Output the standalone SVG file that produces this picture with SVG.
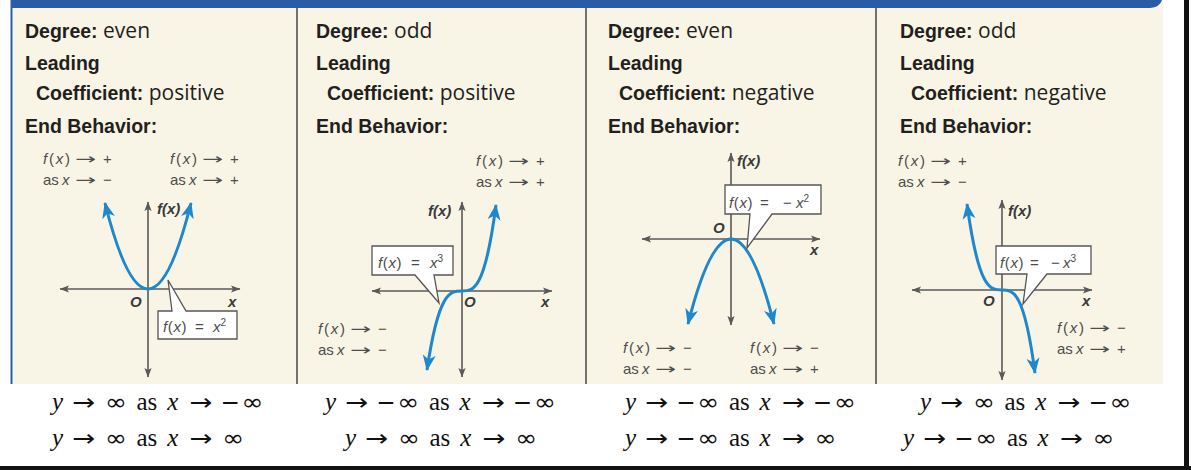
<svg xmlns="http://www.w3.org/2000/svg" width="1191" height="470" viewBox="0 0 1191 470">
<style>
.hb{font-family:"Liberation Sans",Arial,sans-serif;font-weight:bold;font-size:19.5px;fill:#231f20}
.hv{font-family:"Open Sans","Liberation Sans",sans-serif;font-weight:normal;font-size:21px;fill:#231f20}
.lb{font-family:"Liberation Sans",Arial,sans-serif;font-size:15px;fill:#4d4d4d}
.it{font-style:italic}
.ls{letter-spacing:1.8px}
.ar{font-family:"DejaVu Sans",sans-serif;font-size:15px}
.ax{stroke:#595959;stroke-width:1.6;fill:none;marker-start:url(#ga);marker-end:url(#ga)}
.cv{stroke:#1f87cc;stroke-width:3;fill:none;marker-start:url(#ba);marker-end:url(#ba)}
.co{fill:#fff;stroke:#555;stroke-width:1.3;stroke-linejoin:miter}
.al{font-family:"Liberation Sans",Arial,sans-serif;font-weight:bold;font-style:italic;font-size:15px;fill:#3a3a3a}
.ct{font-family:"Liberation Sans",Arial,sans-serif;font-size:15px;fill:#4d4d4d}
.cl{letter-spacing:0.6px}
.sup{font-size:10px}
.mt{font-family:"Liberation Serif","DejaVu Serif",serif;font-size:25px;fill:#111}
.ms{font-family:"DejaVu Sans",sans-serif;font-size:23px;font-style:normal}
.dv{stroke:#444;stroke-width:1.5}
</style>
<defs>
<marker id="ba" viewBox="-17 -8 19 16" refX="0" refY="0" markerWidth="19" markerHeight="16" markerUnits="userSpaceOnUse" orient="auto-start-reverse">
<path d="M1,0 L-15,-6.5 L-10.5,0 L-15,6.5 Z" fill="#1f87cc"/>
</marker>
<marker id="ga" viewBox="-11 -5 12 10" refX="0" refY="0" markerWidth="12" markerHeight="10" markerUnits="userSpaceOnUse" orient="auto-start-reverse">
<path d="M0.5,0 L-9,-3.6 L-7,0 L-9,3.6 Z" fill="#595959"/>
</marker>
</defs>
<rect x="0" y="0" width="1191" height="470" fill="#fff"/>
<rect x="11" y="0" width="1152" height="384" fill="#f9f5e6"/>
<path d="M11,0 H1162 Q1160,7 1150,8 H11 Z" fill="#2b5aa6"/>
<line x1="11.5" y1="0" x2="11.5" y2="384" stroke="#2d5fb0" stroke-width="2"/>
<rect x="1184" y="0" width="5" height="470" fill="#111"/>
<rect x="0" y="466" width="1191" height="4" fill="#111"/>
<g id="dividers">
<line class="dv" x1="297" y1="8" x2="297" y2="384"/>
<line class="dv" x1="586" y1="8" x2="586" y2="384"/>
<line class="dv" x1="876" y1="8" x2="876" y2="384"/>
</g>

<g id="panel1">
<text x="25" y="38"><tspan class="hb">Degree:</tspan><tspan class="hv"> even</tspan></text>
<text class="hb" x="25" y="70">Leading</text>
<text x="36" y="100"><tspan class="hb">Coefficient:</tspan><tspan class="hv"> positive</tspan></text>
<text class="hb" x="25" y="133">End Behavior:</text>
<text class="lb" y="164"><tspan x="43" class="ls"><tspan class="it">f</tspan>(<tspan class="it">x</tspan>)</tspan><tspan x="75" class="ar" textLength="21" lengthAdjust="spacingAndGlyphs">→</tspan><tspan x="103">+</tspan></text>
<text class="lb" y="185"><tspan x="43">as</tspan><tspan x="62" class="it">x</tspan><tspan x="75" class="ar" textLength="21" lengthAdjust="spacingAndGlyphs">→</tspan><tspan x="103">−</tspan></text>
<text class="lb" y="164"><tspan x="170" class="ls"><tspan class="it">f</tspan>(<tspan class="it">x</tspan>)</tspan><tspan x="202" class="ar" textLength="21" lengthAdjust="spacingAndGlyphs">→</tspan><tspan x="230">+</tspan></text>
<text class="lb" y="185"><tspan x="170">as</tspan><tspan x="189" class="it">x</tspan><tspan x="202" class="ar" textLength="21" lengthAdjust="spacingAndGlyphs">→</tspan><tspan x="230">+</tspan></text>
<path class="ax" d="M148,202 V377"/>
<path class="ax" d="M60,289 H240"/>
<text class="al" x="157" y="214">f(x)</text>
<text class="al" x="130" y="307">O</text>
<text class="al" x="228" y="307">x</text>
<path class="cv" d="M105,203 Q148,375 191,203"/>
<path class="co" d="M158,311 H172 L168,280 L186,311 H237 V339 H158 Z"/>
<text class="ct" y="332"><tspan x="163" class="cl"><tspan class="it">f</tspan>(<tspan class="it">x</tspan>)</tspan><tspan x="195">=</tspan><tspan x="213" class="it">x</tspan><tspan class="sup" dy="-6">2</tspan></text>
</g>

<g id="panel2">
<text x="316" y="38"><tspan class="hb">Degree:</tspan><tspan class="hv"> odd</tspan></text>
<text class="hb" x="316" y="70">Leading</text>
<text x="327" y="100"><tspan class="hb">Coefficient:</tspan><tspan class="hv"> positive</tspan></text>
<text class="hb" x="316" y="133">End Behavior:</text>
<text class="lb" y="166"><tspan x="476" class="ls"><tspan class="it">f</tspan>(<tspan class="it">x</tspan>)</tspan><tspan x="508" class="ar" textLength="21" lengthAdjust="spacingAndGlyphs">→</tspan><tspan x="536">+</tspan></text>
<text class="lb" y="187"><tspan x="476">as</tspan><tspan x="495" class="it">x</tspan><tspan x="508" class="ar" textLength="21" lengthAdjust="spacingAndGlyphs">→</tspan><tspan x="536">+</tspan></text>
<text class="lb" y="334"><tspan x="318" class="ls"><tspan class="it">f</tspan>(<tspan class="it">x</tspan>)</tspan><tspan x="350" class="ar" textLength="21" lengthAdjust="spacingAndGlyphs">→</tspan><tspan x="378">−</tspan></text>
<text class="lb" y="355"><tspan x="318">as</tspan><tspan x="337" class="it">x</tspan><tspan x="350" class="ar" textLength="21" lengthAdjust="spacingAndGlyphs">→</tspan><tspan x="378">−</tspan></text>
<path class="ax" d="M462,202 V377"/>
<path class="ax" d="M372,291 H552"/>
<text class="al" x="428" y="216">f(x)</text>
<text class="al" x="464" y="307">O</text>
<text class="al" x="541" y="307">x</text>
<path class="cv" d="M427,370 C438.7,291 450.3,291 462,291 C473.3,291 484.7,291 496,205"/>
<path class="co" d="M372,246 H453 V275 H434 L439,303 L415,275 H372 Z"/>
<text class="ct" y="268"><tspan x="378" class="cl"><tspan class="it">f</tspan>(<tspan class="it">x</tspan>)</tspan><tspan x="411">=</tspan><tspan x="430" class="it">x</tspan><tspan class="sup" dy="-6">3</tspan></text>
</g>

<g id="panel3">
<text x="608" y="38"><tspan class="hb">Degree:</tspan><tspan class="hv"> even</tspan></text>
<text class="hb" x="608" y="70">Leading</text>
<text x="619" y="100"><tspan class="hb">Coefficient:</tspan><tspan class="hv"> negative</tspan></text>
<text class="hb" x="608" y="133">End Behavior:</text>
<text class="lb" y="353"><tspan x="623" class="ls"><tspan class="it">f</tspan>(<tspan class="it">x</tspan>)</tspan><tspan x="655" class="ar" textLength="21" lengthAdjust="spacingAndGlyphs">→</tspan><tspan x="683">−</tspan></text>
<text class="lb" y="374"><tspan x="623">as</tspan><tspan x="642" class="it">x</tspan><tspan x="655" class="ar" textLength="21" lengthAdjust="spacingAndGlyphs">→</tspan><tspan x="683">−</tspan></text>
<text class="lb" y="353"><tspan x="750" class="ls"><tspan class="it">f</tspan>(<tspan class="it">x</tspan>)</tspan><tspan x="782" class="ar" textLength="21" lengthAdjust="spacingAndGlyphs">→</tspan><tspan x="810">−</tspan></text>
<text class="lb" y="374"><tspan x="750">as</tspan><tspan x="769" class="it">x</tspan><tspan x="782" class="ar" textLength="21" lengthAdjust="spacingAndGlyphs">→</tspan><tspan x="810">+</tspan></text>
<path class="ax" d="M731,153 V325"/>
<path class="ax" d="M642,239 H820"/>
<text class="al" x="737" y="166">f(x)</text>
<text class="al" x="713" y="233">O</text>
<text class="al" x="810" y="255">x</text>
<path class="cv" d="M688,324 Q731,154 774,324"/>
<path class="co" d="M725,185 H821 V214 H772 L747,248 L750,214 H725 Z"/>
<text class="ct" y="208"><tspan x="729" class="cl"><tspan class="it">f</tspan>(<tspan class="it">x</tspan>)</tspan><tspan x="760">=</tspan><tspan x="783">−</tspan><tspan x="796" class="it">x</tspan><tspan class="sup" dy="-6">2</tspan></text>
</g>

<g id="panel4">
<text x="900" y="38"><tspan class="hb">Degree:</tspan><tspan class="hv"> odd</tspan></text>
<text class="hb" x="900" y="70">Leading</text>
<text x="911" y="100"><tspan class="hb">Coefficient:</tspan><tspan class="hv"> negative</tspan></text>
<text class="hb" x="900" y="133">End Behavior:</text>
<text class="lb" y="166"><tspan x="898" class="ls"><tspan class="it">f</tspan>(<tspan class="it">x</tspan>)</tspan><tspan x="930" class="ar" textLength="21" lengthAdjust="spacingAndGlyphs">→</tspan><tspan x="958">+</tspan></text>
<text class="lb" y="187"><tspan x="898">as</tspan><tspan x="917" class="it">x</tspan><tspan x="930" class="ar" textLength="21" lengthAdjust="spacingAndGlyphs">→</tspan><tspan x="958">−</tspan></text>
<text class="lb" y="333"><tspan x="1057" class="ls"><tspan class="it">f</tspan>(<tspan class="it">x</tspan>)</tspan><tspan x="1089" class="ar" textLength="21" lengthAdjust="spacingAndGlyphs">→</tspan><tspan x="1117">−</tspan></text>
<text class="lb" y="354"><tspan x="1057">as</tspan><tspan x="1076" class="it">x</tspan><tspan x="1089" class="ar" textLength="21" lengthAdjust="spacingAndGlyphs">→</tspan><tspan x="1117">+</tspan></text>
<path class="ax" d="M1002,200 V380"/>
<path class="ax" d="M912,290 H1092"/>
<text class="al" x="1008" y="216">f(x)</text>
<text class="al" x="983" y="306">O</text>
<text class="al" x="1082" y="306">x</text>
<path class="cv" d="M967,204 C978.7,290 990.3,290 1002,290 C1013,290 1024,290 1035,373"/>
<path class="co" d="M996,246 H1091 V274 H1047 L1023,304 L1027,274 H996 Z"/>
<text class="ct" y="268"><tspan x="1000" class="cl"><tspan class="it">f</tspan>(<tspan class="it">x</tspan>)</tspan><tspan x="1030">=</tspan><tspan x="1051">−</tspan><tspan x="1063" class="it">x</tspan><tspan class="sup" dy="-6">3</tspan></text>
</g>

<g id="math">
<text class="mt" y="410"><tspan x="52" class="it">y</tspan><tspan x="72.2" class="ms" textLength="23" lengthAdjust="spacingAndGlyphs">→</tspan><tspan x="104.7" class="ms" textLength="22" lengthAdjust="spacingAndGlyphs">∞</tspan><tspan x="136.5">as</tspan><tspan x="167.2" class="it">x</tspan><tspan x="189.4" class="ms" textLength="23" lengthAdjust="spacingAndGlyphs">→</tspan><tspan x="220.4" class="ms">−</tspan><tspan x="241.3" class="ms" textLength="22" lengthAdjust="spacingAndGlyphs">∞</tspan></text>
<text class="mt" y="410"><tspan x="325" class="it">y</tspan><tspan x="345.2" class="ms" textLength="23" lengthAdjust="spacingAndGlyphs">→</tspan><tspan x="376.2" class="ms">−</tspan><tspan x="397.1" class="ms" textLength="22" lengthAdjust="spacingAndGlyphs">∞</tspan><tspan x="428.9">as</tspan><tspan x="459.6" class="it">x</tspan><tspan x="481.9" class="ms" textLength="23" lengthAdjust="spacingAndGlyphs">→</tspan><tspan x="512.8" class="ms">−</tspan><tspan x="533.8" class="ms" textLength="22" lengthAdjust="spacingAndGlyphs">∞</tspan></text>
<text class="mt" y="410"><tspan x="625" class="it">y</tspan><tspan x="645.2" class="ms" textLength="23" lengthAdjust="spacingAndGlyphs">→</tspan><tspan x="676.2" class="ms">−</tspan><tspan x="697.1" class="ms" textLength="22" lengthAdjust="spacingAndGlyphs">∞</tspan><tspan x="728.9">as</tspan><tspan x="759.6" class="it">x</tspan><tspan x="781.9" class="ms" textLength="23" lengthAdjust="spacingAndGlyphs">→</tspan><tspan x="812.8" class="ms">−</tspan><tspan x="833.8" class="ms" textLength="22" lengthAdjust="spacingAndGlyphs">∞</tspan></text>
<text class="mt" y="410"><tspan x="920" class="it">y</tspan><tspan x="940.2" class="ms" textLength="23" lengthAdjust="spacingAndGlyphs">→</tspan><tspan x="972.7" class="ms" textLength="22" lengthAdjust="spacingAndGlyphs">∞</tspan><tspan x="1004.5">as</tspan><tspan x="1035.2" class="it">x</tspan><tspan x="1057.4" class="ms" textLength="23" lengthAdjust="spacingAndGlyphs">→</tspan><tspan x="1088.4" class="ms">−</tspan><tspan x="1109.3" class="ms" textLength="22" lengthAdjust="spacingAndGlyphs">∞</tspan></text>
<text class="mt" y="446"><tspan x="52" class="it">y</tspan><tspan x="72.2" class="ms" textLength="23" lengthAdjust="spacingAndGlyphs">→</tspan><tspan x="104.7" class="ms" textLength="22" lengthAdjust="spacingAndGlyphs">∞</tspan><tspan x="136.5">as</tspan><tspan x="167.2" class="it">x</tspan><tspan x="189.4" class="ms" textLength="23" lengthAdjust="spacingAndGlyphs">→</tspan><tspan x="221.9" class="ms" textLength="22" lengthAdjust="spacingAndGlyphs">∞</tspan></text>
<text class="mt" y="446"><tspan x="345" class="it">y</tspan><tspan x="365.2" class="ms" textLength="23" lengthAdjust="spacingAndGlyphs">→</tspan><tspan x="397.7" class="ms" textLength="22" lengthAdjust="spacingAndGlyphs">∞</tspan><tspan x="429.5">as</tspan><tspan x="460.2" class="it">x</tspan><tspan x="482.4" class="ms" textLength="23" lengthAdjust="spacingAndGlyphs">→</tspan><tspan x="514.9" class="ms" textLength="22" lengthAdjust="spacingAndGlyphs">∞</tspan></text>
<text class="mt" y="446"><tspan x="625" class="it">y</tspan><tspan x="645.2" class="ms" textLength="23" lengthAdjust="spacingAndGlyphs">→</tspan><tspan x="676.2" class="ms">−</tspan><tspan x="697.1" class="ms" textLength="22" lengthAdjust="spacingAndGlyphs">∞</tspan><tspan x="728.9">as</tspan><tspan x="759.6" class="it">x</tspan><tspan x="781.9" class="ms" textLength="23" lengthAdjust="spacingAndGlyphs">→</tspan><tspan x="814.3" class="ms" textLength="22" lengthAdjust="spacingAndGlyphs">∞</tspan></text>
<text class="mt" y="446"><tspan x="903" class="it">y</tspan><tspan x="923.2" class="ms" textLength="23" lengthAdjust="spacingAndGlyphs">→</tspan><tspan x="954.2" class="ms">−</tspan><tspan x="975.1" class="ms" textLength="22" lengthAdjust="spacingAndGlyphs">∞</tspan><tspan x="1006.9">as</tspan><tspan x="1037.6" class="it">x</tspan><tspan x="1059.9" class="ms" textLength="23" lengthAdjust="spacingAndGlyphs">→</tspan><tspan x="1092.3" class="ms" textLength="22" lengthAdjust="spacingAndGlyphs">∞</tspan></text>
</g>
</svg>
